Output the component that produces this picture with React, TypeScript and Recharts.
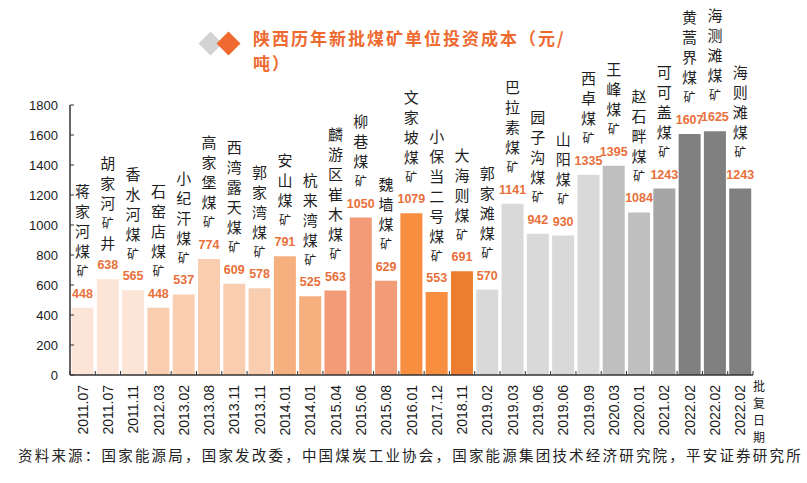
import React from 'react';
import { BarChart, Bar, XAxis, YAxis, Cell, LabelList } from 'recharts';

const mines = [
  '蒋家河煤矿', '胡家河矿井', '香水河煤矿', '石窑店煤矿', '小纪汗煤矿', '高家堡煤矿',
  '西湾露天煤矿', '郭家湾煤矿', '安山煤矿', '杭来湾煤矿', '麟游区崔木煤矿', '柳巷煤矿',
  '魏墙煤矿', '文家坡煤矿', '小保当二号煤矿', '大海则煤矿', '郭家滩煤矿', '巴拉素煤矿',
  '园子沟煤矿', '山阳煤矿', '西卓煤矿', '王峰煤矿', '赵石畔煤矿', '可可盖煤矿',
  '黄蒿界煤矿', '海测滩煤矿', '海则滩煤矿',
];
const dates = [
  '2011.07', '2011.07', '2011.11', '2012.03', '2013.02', '2013.08', '2013.11', '2013.11',
  '2014.01', '2014.01', '2015.04', '2015.06', '2015.08', '2016.01', '2017.12', '2018.11',
  '2019.02', '2019.03', '2019.06', '2019.06', '2019.09', '2020.03', '2020.01', '2021.02',
  '2022.02', '2022.02', '2022.02',
];
const costs = [
  448, 638, 565, 448, 537, 774, 609, 578, 791, 525, 563, 1050, 629, 1079, 553, 691,
  570, 1141, 942, 930, 1335, 1395, 1084, 1243, 1607, 1625, 1243,
];
const barColors = [
  '#FCE4D6', '#FCE4D6', '#FCE4D6',
  '#F9CDB0', '#F9CDB0', '#F9CDB0', '#F9CDB0', '#F9CDB0',
  '#F6B080', '#F6B080',
  '#F29B76', '#F29B76', '#F29B76',
  '#F88E3F', '#F88E3F',
  '#ED7D31',
  '#D9D9D9', '#D9D9D9', '#D9D9D9', '#D9D9D9', '#D9D9D9',
  '#BFBFBF', '#BFBFBF',
  '#A6A6A6',
  '#808080', '#808080', '#808080',
];
const yTicks = [0, 200, 400, 600, 800, 1000, 1200, 1400, 1600, 1800];
const axisTitleChars = ['批', '复', '日', '期'];

const data = mines.map((name, i) => ({ id: i, name, value: costs[i] }));

const CHART_W = 807;
const CHART_H = 483;
const M_LEFT = 0;
const Y_W = 70;
const M_RIGHT = 54;
const PLOT_W = CHART_W - M_LEFT - Y_W - M_RIGHT;
const STEP = PLOT_W / data.length;

const AXIS = '#333333';
const NUM_FONT = '"Liberation Sans", Arial, sans-serif';
const CJK_FONT = '"Noto Sans CJK SC", "Noto Sans", sans-serif';

const XTick = (props: any) => {
  const { x, y, payload } = props;
  const i = Number(payload.value);
  const half = STEP / 2;
  const ty = y + 10;
  return (
    <g>
      <line x1={x - half} x2={x - half} y1={y} y2={y - 4} stroke={AXIS} strokeWidth={1} />
      {i === data.length - 1 && (
        <line x1={x + half} x2={x + half} y1={y} y2={y - 4} stroke={AXIS} strokeWidth={1} />
      )}
      <text
        x={x}
        y={ty}
        transform={`rotate(-90 ${x} ${ty})`}
        textAnchor="end"
        dominantBaseline="central"
        fontFamily={NUM_FONT}
        fontSize={14}
        fill="#1a1a1a"
      >
        {dates[i]}
      </text>
    </g>
  );
};

const YTick = (props: any) => {
  const { x, y, payload } = props;
  return (
    <g>
      <line x1={x} x2={x + 4} y1={y} y2={y} stroke={AXIS} strokeWidth={1} />
      <text
        x={x - 12}
        y={y}
        textAnchor="end"
        dominantBaseline="central"
        fontFamily={NUM_FONT}
        fontSize={13}
        fill="#1a1a1a"
      >
        {payload.value}
      </text>
    </g>
  );
};

const ValueLabel = (props: any) => {
  const { x, y, width, value } = props;
  return (
    <text
      x={Number(x) + Number(width) / 2}
      y={Number(y) - 14}
      textAnchor="middle"
      dominantBaseline="central"
      fontFamily={NUM_FONT}
      fontWeight={700}
      fontSize={12.5}
      fill="#E86F3A"
    >
      {value}
    </text>
  );
};

const NameLabel = (props: any) => {
  const { x, y, width, value } = props;
  const cx = Number(x) + Number(width) / 2;
  const chars = Array.from(String(value));
  const n = chars.length;
  return (
    <g>
      {chars.map((c, k) => (
        <text
          key={k}
          x={cx}
          y={Number(y) - 37 - (n - 1 - k) * 20}
          textAnchor="middle"
          dominantBaseline="central"
          fontFamily={CJK_FONT}
          fontSize={c === '矿' ? 12 : 15}
          fill="#1f1f1f"
        >
          {c}
        </text>
      ))}
    </g>
  );
};

export default function App() {
  return (
    <div style={{ position: 'relative', width: CHART_W, height: CHART_H, background: '#fff', overflow: 'hidden' }}>
      <style>{`body{margin:0;background:#fff;}`}</style>
      <div
        style={{
          position: 'absolute', left: 202, top: 35, width: 17, height: 17,
          background: '#D3D3D3', transform: 'rotate(45deg)',
        }}
      />
      <div
        style={{
          position: 'absolute', left: 220, top: 35, width: 17, height: 17,
          background: '#EE6A30', transform: 'rotate(45deg)',
        }}
      />
      <div
        style={{
          position: 'absolute', left: 253, top: 25, fontFamily: CJK_FONT, fontWeight: 700,
          fontSize: 17, lineHeight: '25px', letterSpacing: 2, color: '#EE6A30', whiteSpace: 'nowrap',
        }}
      >
        陕西历年新批煤矿单位投资成本（元/
      </div>
      <div
        style={{
          position: 'absolute', left: 253, top: 50, fontFamily: CJK_FONT, fontWeight: 700,
          fontSize: 17, lineHeight: '25px', letterSpacing: 2, color: '#EE6A30', whiteSpace: 'nowrap',
        }}
      >
        吨）
      </div>
      <div style={{ position: 'absolute', left: 0, top: 0 }}>
        <BarChart
          width={CHART_W}
          height={CHART_H}
          data={data}
          margin={{ top: 105, right: M_RIGHT, left: M_LEFT, bottom: 0 }}
          barCategoryGap="6%"
        >
          <XAxis
            dataKey="id"
            type="category"
            height={108}
            interval={0}
            tickLine={false}
            tickSize={0}
            tickMargin={0}
            axisLine={{ stroke: AXIS, strokeWidth: 1.5 }}
            tick={<XTick />}
          />
          <YAxis
            type="number"
            width={Y_W}
            domain={[0, 1800]}
            ticks={yTicks}
            interval={0}
            tickLine={false}
            tickSize={0}
            tickMargin={0}
            axisLine={{ stroke: AXIS, strokeWidth: 1.5 }}
            tick={<YTick />}
          />
          <Bar dataKey="value" isAnimationActive={false}>
            {data.map((d, i) => (
              <Cell key={d.id} fill={barColors[i]} />
            ))}
            <LabelList dataKey="value" content={<ValueLabel />} />
            <LabelList dataKey="name" content={<NameLabel />} />
          </Bar>
        </BarChart>
      </div>
      <svg
        width={24}
        height={80}
        style={{ position: 'absolute', left: 747, top: 372 }}
      >
        {axisTitleChars.map((c, k) => (
          <text
            key={c}
            x={12}
            y={13 + k * 17}
            textAnchor="middle"
            dominantBaseline="central"
            fontFamily={CJK_FONT}
            fontSize={12}
            fill="#1a1a1a"
          >
            {c}
          </text>
        ))}
      </svg>
      <div
        style={{
          position: 'absolute', left: 18, top: 445, fontFamily: CJK_FONT, fontSize: 14.5,
          lineHeight: '20px', letterSpacing: 2.2, color: '#222', whiteSpace: 'nowrap',
        }}
      >
        资料来源：国家能源局，国家发改委，中国煤炭工业协会，国家能源集团技术经济研究院，平安证券研究所
      </div>
    </div>
  );
}
